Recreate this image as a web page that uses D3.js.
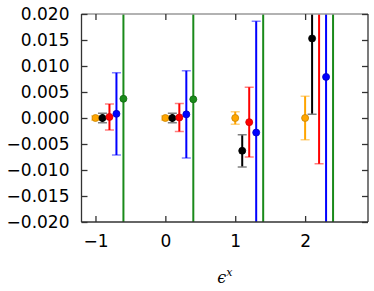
<!DOCTYPE html>
<html><head><meta charset="utf-8">
<script src="https://cdn.jsdelivr.net/npm/d3@7"></script>
<style>body{margin:0;background:#fff}svg{display:block}</style>
</head><body>
<script>
const categories = [-1, 0, 1, 2];
const seriesNames = ["orange", "black", "red", "blue", "green"];
const seriesOffsets = [0, 0.1, 0.2, 0.3, 0.4];
const orangeValues = [0.0000, 0.0000, 0.0000, 0.0000];
const orangeErrors = [0.0004, 0.0004, 0.0012, 0.0042];
const blackValues = [0.0000, 0.0000, -0.0063, 0.0153];
const blackErrors = [0.0009, 0.0009, 0.0031, 0.0146];
const redValues = [0.0002, 0.0001, -0.0008, 0.0240];
const redErrors = [0.0025, 0.0027, 0.0067, 0.0328];
const blueValues = [0.0008, 0.0007, -0.0028, 0.0079];
const blueErrors = [0.0079, 0.0084, 0.0214, 0.0400];
const greenValues = [0.0037, 0.0036, 0.0300, 0.0300];
const greenErrors = [0.0600, 0.0600, 0.0800, 0.0800];
const xTicks = [-1, 0, 1, 2];
const yTicks = [-0.020, -0.015, -0.010, -0.005, 0.000, 0.005, 0.010, 0.015, 0.020];

const W = 374, H = 291;
const L = 81.5, R = 368, T = 14, B = 222;
const svg = d3.select("body").append("svg").attr("width", W).attr("height", H);
const x = d3.scaleLinear().domain([-1.2, 2.9]).range([L, R]);
const y = d3.scaleLinear().domain([-0.02, 0.02]).range([B, T]);

const colors = {orange: "#ffa500", black: "#000000", red: "#ff0000", blue: "#0000ff", green: "#1a8a1a"};
const edges = {orange: "#c88400", black: "#000000", red: "#d00000", blue: "#0000c0", green: "#0f6a0f"};
const vals = {orange: orangeValues, black: blackValues, red: redValues, blue: blueValues, green: greenValues};
const errs = {orange: orangeErrors, black: blackErrors, red: redErrors, blue: blueErrors, green: greenErrors};

svg.append("clipPath").attr("id", "clip").append("rect")
  .attr("x", L).attr("y", T).attr("width", R - L).attr("height", B - T);

const plot = svg.append("g").attr("clip-path", "url(#clip)");
seriesNames.forEach((s, si) => {
  const g = plot.append("g");
  const data = categories.map((c, i) => ({xv: c + seriesOffsets[si], v: vals[s][i], e: errs[s][i]}));
  g.selectAll("line.err").data(data).join("line")
    .attr("x1", d => x(d.xv)).attr("x2", d => x(d.xv))
    .attr("y1", d => y(d.v - d.e)).attr("y2", d => y(d.v + d.e))
    .attr("stroke", colors[s]).attr("stroke-width", 2);
  ["lo", "hi"].forEach(k => {
    g.selectAll("line.cap" + k).data(data).join("line")
      .attr("x1", d => x(d.xv) - 4.5).attr("x2", d => x(d.xv) + 4.5)
      .attr("y1", d => y(k === "lo" ? d.v - d.e : d.v + d.e))
      .attr("y2", d => y(k === "lo" ? d.v - d.e : d.v + d.e))
      .attr("stroke", s === "black" ? "#808080" : colors[s]).attr("stroke-opacity", s === "black" ? 1 : 0.5)
      .attr("stroke-width", 1.5);
  });
  g.selectAll("circle").data(data).join("circle")
    .attr("cx", d => x(d.xv)).attr("cy", d => y(d.v)).attr("r", 3.5)
    .attr("fill", colors[s]).attr("stroke", edges[s]).attr("stroke-width", 0.8);
});

// spines
const sp = svg.append("g").attr("fill", "none");
sp.append("line").attr("x1", L).attr("x2", R).attr("y1", T).attr("y2", T).attr("stroke", "#999").attr("stroke-width", 1.5);
sp.append("line").attr("x1", L).attr("x2", R).attr("y1", B).attr("y2", B).attr("stroke", "#333").attr("stroke-width", 1.3);
sp.append("line").attr("x1", L).attr("x2", L).attr("y1", T).attr("y2", B).attr("stroke", "#333").attr("stroke-width", 1.3);
sp.append("line").attr("x1", R).attr("x2", R).attr("y1", T).attr("y2", B).attr("stroke", "#333").attr("stroke-width", 1.3);

function styleAxis(g, labels) {
  g.select(".domain").remove();
  g.selectAll(".tick line").attr("stroke", "#333").attr("stroke-width", 1.3);
  if (labels) g.selectAll("text").attr("font-family", "DejaVu Sans").attr("font-size", 17).attr("fill", "#000");
  else g.selectAll("text").remove();
}
svg.append("g").attr("transform", `translate(0,${B})`)
  .call(d3.axisBottom(x).tickValues(xTicks).tickFormat(d3.format("d")).tickSize(-6).tickPadding(13))
  .call(g => styleAxis(g, true));
svg.append("g").attr("transform", `translate(0,${T})`)
  .call(d3.axisTop(x).tickValues(xTicks).tickSize(-6))
  .call(g => styleAxis(g, false));
svg.append("g").attr("transform", `translate(${L},0)`)
  .call(d3.axisLeft(y).tickValues(yTicks).tickFormat(d3.format(".3f")).tickSize(-6).tickPadding(12))
  .call(g => styleAxis(g, true));
svg.append("g").attr("transform", `translate(${R},0)`)
  .call(d3.axisRight(y).tickValues(yTicks).tickSize(-6))
  .call(g => styleAxis(g, false));

const lab = svg.append("text").attr("x", (L + R) / 2).attr("y", 283).attr("text-anchor", "middle")
  .attr("font-family", "DejaVu Serif").attr("font-style", "italic").attr("font-size", 16).attr("fill", "#000");
lab.append("tspan").text("ϵ");
lab.append("tspan").attr("font-size", 11).attr("dy", -7).text("x");
</script>
</body></html>
